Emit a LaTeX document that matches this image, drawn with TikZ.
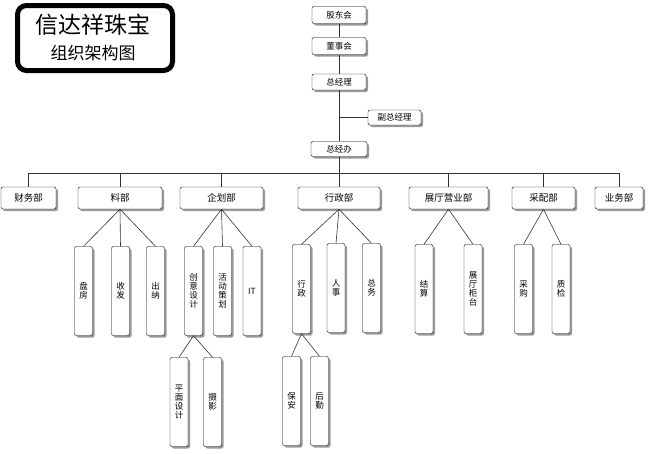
\documentclass[tikz,border=0pt]{standalone}
\usepackage{fontspec}
\usepackage{tikz}
\usetikzlibrary{shadows}
\newfontfamily\cjk{Noto Sans CJK SC}

\begin{document}
\begin{tikzpicture}[x=1pt,y=-1pt,font=\cjk,
  box/.style={draw,rounded corners=2pt,fill=white,inner sep=0pt,
    drop shadow={shadow xshift=2pt,shadow yshift=-2pt,fill=black!50,opacity=.8},
    font=\cjk\fontsize{8.5}{9}\selectfont},
  topbox/.style={box,minimum width=54,minimum height=17},
  deptbox/.style={box,minimum height=22,font=\cjk\fontsize{9.5}{11}\selectfont},
  vbox/.style={box,minimum width=18,minimum height=89,align=center},
  link/.style={draw=black!80,line width=0.6pt}]
  \useasboundingbox (0,0) rectangle (650,453);

  \node[draw,line width=5pt,rounded corners=9pt,minimum width=155,minimum height=65] (frame) at (95,38) {};
  \node[font=\cjk\fontsize{23}{26}\selectfont] (name) at (93,25) {信达祥珠宝};
  \node[font=\cjk\fontsize{17}{20}\selectfont] (sub) at (93,53) {组织架构图};

  \coordinate (bar) at (339,173);

  \node[topbox] (gd) at (339,15) {股东会};
  \node[topbox] (dsh) at (339,46) {董事会};
  \node[topbox,minimum height=16] (zjl) at (339,82) {总经理};
  \node[topbox,minimum width=53,minimum height=15] (fzjl) at (394.5,117.5) {副总经理};
  \node[topbox,minimum width=56,minimum height=15] (zjb) at (339,149) {总经办};

  \node[deptbox,minimum width=55] (cwb) at (28.5,198) {财务部};
  \node[deptbox,minimum width=84] (lb) at (120,198) {料部};
  \node[deptbox,minimum width=83] (qhb) at (221.5,198) {企划部};
  \node[deptbox,minimum width=82] (xzb) at (339,198) {行政部};
  \node[deptbox,minimum width=79] (zt) at (448.5,198) {展厅营业部};
  \node[deptbox,minimum width=63] (cp) at (543.5,198) {采配部};
  \node[deptbox,minimum width=48] (ywb) at (619,198) {业务部};

  \node[vbox] (pf) at (83.5,291) {盘\\房};
  \node[vbox] (sf) at (120.5,291) {收\\发};
  \node[vbox] (cn) at (155.5,291) {出\\纳};
  \node[vbox] (cysj) at (193.5,291) {创\\意\\设\\计};
  \node[vbox] (hdch) at (222.5,291) {活\\动\\策\\划};
  \node[vbox] (it) at (252,291) {IT};
  \node[vbox] (xz) at (301.5,289) {行\\政};
  \node[vbox] (rs) at (336,288) {人\\事};
  \node[vbox] (zw) at (371.5,288) {总\\务};
  \node[vbox] (js) at (424,289) {结\\算};
  \node[vbox] (ztgt) at (473,289) {展\\厅\\柜\\台};
  \node[vbox] (cg) at (523.5,289) {采\\购};
  \node[vbox] (zj) at (561,289) {质\\检};

  \node[vbox] (pmsj) at (179,402) {平\\面\\设\\计};
  \node[vbox] (sy) at (212.5,402) {摄\\影};
  \node[vbox] (ba) at (291.5,401) {保\\安};
  \node[vbox] (hq) at (319.5,401) {后\\勤};

  \draw[link] (gd) -- (dsh) -- (zjl) -- (zjb) -- (xzb);
  \draw[link] (fzjl.west) -- (fzjl.west -| zjl.south);
  \draw[link] (cwb.north |- bar) -- (ywb.north |- bar);
  \foreach \d in {cwb,lb,qhb,zt,cp,ywb}
    \draw[link] (\d.north) -- (\d.north |- bar);

  \foreach \c in {pf,sf,cn}
    \draw[link] (lb.south) -- (\c.north);
  \foreach \c in {cysj,hdch,it}
    \draw[link] (qhb.south) -- (\c.north);
  \foreach \c in {xz,rs,zw}
    \draw[link] (xzb.south) -- (\c.north);
  \foreach \c in {js,ztgt}
    \draw[link] (zt.south) -- (\c.north);
  \foreach \c in {cg,zj}
    \draw[link] (cp.south) -- (\c.north);
  \foreach \c in {pmsj,sy}
    \draw[link] (cysj.south) -- (\c.north);
  \foreach \c in {ba,hq}
    \draw[link] (xz.south) -- (\c.north);
\end{tikzpicture}
\end{document}
